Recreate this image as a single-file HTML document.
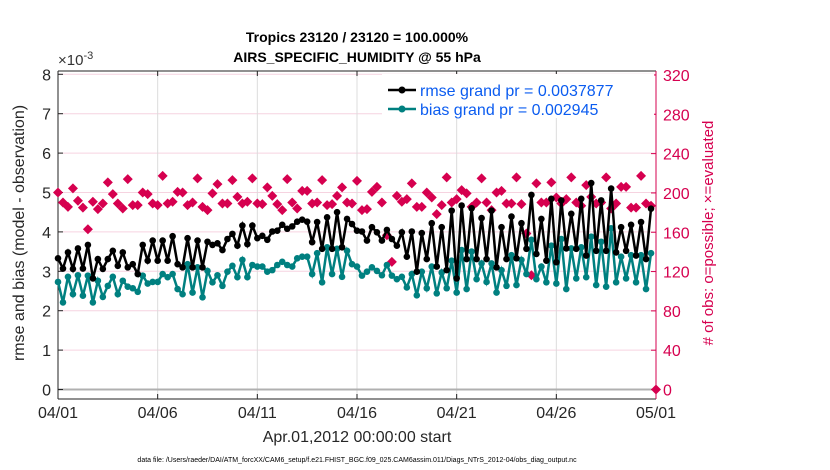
<!DOCTYPE html>
<html><head><meta charset="utf-8"><style>
body{margin:0;background:#fff;}
svg{display:block;font-family:"Liberation Sans",Arial,sans-serif;}
</style></head><body>
<svg id="chart" width="830" height="470" viewBox="0 0 830 470">
<g id="grid"></g>
<g id="axes"></g>
<g id="marks"></g>
<text x="357" y="42" text-anchor="middle" font-size="14" font-weight="bold">Tropics 23120 / 23120 = 100.000%</text>
<text x="357" y="62" text-anchor="middle" font-size="14" font-weight="bold">AIRS_SPECIFIC_HUMIDITY @ 55 hPa</text>
<text x="58" y="65" font-size="15" fill="#333">×10<tspan dy="-6" font-size="11">-3</tspan></text>
<text transform="translate(24,233) rotate(-90)" text-anchor="middle" font-size="16" fill="#262626">rmse and bias (model - observation)</text>
<text transform="translate(713,233) rotate(-90)" text-anchor="middle" font-size="15" fill="#d6004f"># of obs: o=possible; ×=evaluated</text>
<text x="357" y="442" text-anchor="middle" font-size="16" fill="#262626">Apr.01,2012 00:00:00 start</text>
<text x="357" y="462" text-anchor="middle" font-size="7" fill="#000">data file: /Users/raeder/DAI/ATM_forcXX/CAM6_setup/f.e21.FHIST_BGC.f09_025.CAM6assim.011/Diags_NTrS_2012-04/obs_diag_output.nc</text>
<g>
<rect x="382" y="74" width="272" height="44" fill="#fff"/>
<line x1="388" y1="90" x2="416" y2="90" stroke="#000" stroke-width="2.5"/>
<circle cx="402" cy="90" r="3.5" fill="#000"/>
<text x="420" y="96" font-size="16" fill="#0b5cf0">rmse grand pr = 0.0037877</text>
<line x1="388" y1="109" x2="416" y2="109" stroke="#008080" stroke-width="2.5"/>
<circle cx="402" cy="109" r="3.5" fill="#008080"/>
<text x="420" y="115" font-size="16" fill="#0b5cf0">bias grand pr = 0.002945</text>
</g>
</svg>
<script>
const xTickLabels=["04/01","04/06","04/11","04/16","04/21","04/26","05/01"];
const yTicks=[0,1,2,3,4,5,6,7,8];
const rTicks=[0,40,80,120,160,200,240,280,320];
const rmse=[3.33,3.07,3.48,3.06,3.58,3.07,3.67,2.82,3.31,3.06,3.31,3.52,3.14,3.48,3.10,3.18,2.93,3.67,3.27,3.78,3.27,3.78,3.27,3.89,3.18,3.10,3.84,3.10,3.78,3.10,3.75,3.67,3.71,3.54,3.82,3.95,3.65,4.16,3.69,4.16,3.84,3.90,3.80,4.01,4.03,4.18,4.08,4.14,4.26,4.31,4.26,3.74,4.25,3.57,4.37,3.57,4.50,3.61,4.33,4.20,
4.03,4.01,3.78,4.12,3.99,3.78,4.05,3.82,3.65,3.99,3.37,4.01,2.99,3.97,3.31,4.22,3.12,4.12,3.03,4.54,2.82,4.67,3.31,4.60,3.31,4.35,3.31,4.54,3.10,4.12,3.31,4.39,3.33,4.22,3.57,4.94,3.44,4.33,3.27,4.84,3.23,4.80,3.58,4.46,3.57,4.84,3.40,5.24,3.52,4.80,3.52,5.10,3.48,4.12,3.52,4.18,3.40,4.25,3.31,4.59];
const bias=[2.73,2.21,2.86,2.42,2.90,2.38,2.89,2.21,2.76,2.35,2.63,2.86,2.42,2.76,2.61,2.57,2.48,2.89,2.69,2.73,2.73,2.93,2.85,2.93,2.55,2.42,3.18,2.46,3.10,2.34,3.01,2.72,2.90,2.63,2.99,3.14,2.85,3.29,2.85,3.16,3.12,3.12,2.99,3.03,3.16,3.24,3.16,3.12,3.33,3.37,3.37,2.93,3.46,2.72,3.61,2.93,3.57,2.86,3.52,3.18,
3.12,2.89,2.99,3.10,3.01,2.90,3.16,2.89,2.80,2.86,2.59,2.93,2.39,2.99,2.57,3.12,2.44,2.97,2.57,3.27,2.46,3.54,2.55,3.50,2.80,3.20,2.73,3.20,2.46,3.03,2.63,3.41,2.65,3.29,2.93,3.80,2.80,3.12,2.72,3.65,2.69,3.82,2.55,3.58,2.82,3.61,2.85,3.88,2.65,3.75,2.61,4.09,2.72,3.37,2.82,3.41,2.72,3.41,2.55,3.46];
const obsCount=[200.5,190.3,185.8,204.6,192,185,163,191,183.5,189.3,210.7,198.8,189.3,184.2,214,187.6,187.6,200.5,198.8,189.3,187.6,217.4,189.3,191,201.1,200.5,187.6,190.3,214.8,185.8,182.5,199.5,209,189.3,189.3,213,196,189.3,191,214.8,189.3,188.6,205.6,197,188.6,182.5,214,190.3,184.2,202.1,202.1,189.3,190.3,213,187.6,188.6,197,205.6,190.3,189.3,
212.3,182.5,183.5,201.1,206.2,190.3,157,129.8,197,191,193.7,209.7,185.8,185.8,200.5,195.4,178.4,187.6,215.8,190.3,193.7,202.9,199.5,185.8,190.3,214.8,190.3,182.5,200.5,202.1,189.3,189.3,215.8,188.6,158.7,116.2,209.7,190.3,190.3,210.7,195.4,189.3,193.7,215.8,190.3,186.9,207.9,196,189.3,190.3,215.8,184.2,189.3,206.2,206.2,185,185,217.4,189.3,186.9,0];

const NS='http://www.w3.org/2000/svg';
const X0=58,X1=656,YT=71,YB=399;
const xs=d=>X0+(X1-X0)*d/30;
const yl=v=>389.5-v*39.4;
const yr=v=>389.5-v*(389.5-75)/320;
function mk(t,a,p){const e=document.createElementNS(NS,t);for(const k in a)e.setAttribute(k,a[k]);p.appendChild(e);return e;}
const grid=document.getElementById('grid'),axes=document.getElementById('axes'),marks=document.getElementById('marks');

yTicks.forEach(v=>{
  const l=mk('line',{x1:X0,x2:X1,y1:yl(v),y2:yl(v),stroke:'#f6d3e0','stroke-width':1},grid);
  
  
  const t=mk('line',{x1:X0,x2:X0+5,y1:yl(v),y2:yl(v),stroke:'#222'},axes);
  const tx=mk('text',{x:X0-7,y:yl(v)+6,'text-anchor':'end','font-size':16,fill:'#262626'},axes);
  tx.textContent=v;
  
  
});
rTicks.forEach(v=>{
  mk('line',{x1:X1-5,x2:X1,y1:yr(v),y2:yr(v),stroke:'#d6004f'},axes);
  const tx=mk('text',{x:X1+7,y:yr(v)+6,'font-size':16,fill:'#d6004f'},axes);
  tx.textContent=v;
  
  
});
xTickLabels.forEach((s,i)=>{
  const x=xs(i*5);
  if(i>0&&i<6){const g=mk('line',{x1:x,x2:x,y1:YT,y2:YB,stroke:'#dcdcdc'},grid);
    
    }
  mk('line',{x1:x,x2:x,y1:YB,y2:YB-5,stroke:'#222'},axes);
  mk('line',{x1:x,x2:x,y1:YT,y2:YT+5,stroke:'#222'},axes);
  const tx=mk('text',{x:x,y:418,'text-anchor':'middle','font-size':16,fill:'#262626'},axes);
  tx.textContent=s;
  
  
});
const zl=mk('line',{x1:X0,x2:X1,y1:yl(0),y2:yl(0),stroke:'#b0b0b0','stroke-width':2},grid);


mk('line',{x1:X0,x2:X1,y1:YT,y2:YT,stroke:'#222'},axes);
mk('line',{x1:X0,x2:X1,y1:YB,y2:YB,stroke:'#222'},axes);
mk('line',{x1:X0,x2:X0,y1:YT,y2:YB,stroke:'#222'},axes);
mk('line',{x1:X1,x2:X1,y1:YT,y2:YB,stroke:'#d6004f'},axes);

obsCount.forEach((v,i)=>{
  const x=xs(i*0.25),y=yr(v);
  const d=mk('path',{d:`M${x} ${y-5}L${x+5} ${y}L${x} ${y+5}L${x-5} ${y}Z`,fill:'#d6004f'},marks);
  
  
});
function series(arr,col,name){
  const pts=arr.map((v,i)=>xs(i*0.25)+','+yl(v)).join(' ');
  const pl=mk('polyline',{points:pts,fill:'none',stroke:col,'stroke-width':2.5},marks);
  
  
  arr.forEach((v,i)=>{
    const c=mk('circle',{cx:xs(i*0.25),cy:yl(v),r:3.3,fill:col},marks);
    
    
  });
}
series(bias,'#008080','bias');
series(rmse,'#000000','rmse');
</script>
</body></html>
